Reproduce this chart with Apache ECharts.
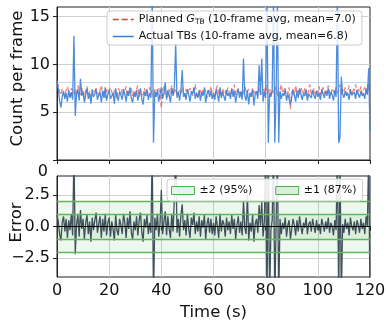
<!DOCTYPE html>
<html>
<head>
<meta charset="utf-8">
<script src="https://cdn.jsdelivr.net/npm/echarts@6/dist/echarts.min.js"></script>
<style>
  html, body { margin: 0; padding: 0; background: #fff; }
  #chart { width: 386px; height: 322px; }
</style>
</head>
<body>
<div id="chart"></div>
<script>
// one sample every 0.5 s, 0..120 s
const step = 0.5;
const xTicks = [0, 20, 40, 60, 80, 100, 120];
const countTicks = [5, 10, 15];
const errorTicks = [-2.5, 0, 2.5];

// planned G_TB (10-frame avg)
const planned = [
  7.6, 7.9, 7.2, 6.8, 7.4, 7.0, 6.6, 7.3, 7.7, 7.1,
  6.7, 7.5, 7.2, 6.9, 7.4, 6.6, 7.8, 7.1, 6.8, 7.5,
  7.0, 6.5, 7.3, 7.7, 6.9, 7.2, 6.6, 7.4, 7.0, 6.8,
  7.5, 7.1, 6.7, 7.3, 7.8, 6.9, 7.2, 6.5, 7.4, 7.0,
  6.8, 7.6, 7.1, 6.7, 7.3, 7.0, 6.4, 7.5, 7.2, 6.9,
  7.4, 6.8, 7.1, 7.7, 6.6, 7.2, 7.0, 7.5, 6.7, 7.3,
  6.9, 7.4, 7.8, 6.6, 7.1, 7.3, 6.8, 7.5, 7.0, 6.7,
  7.2, 7.6, 6.9, 7.3, 6.6, 7.4, 7.1, 6.8, 7.5, 7.0,
  5.4, 7.3, 7.7, 6.9, 7.1, 6.6, 7.4, 7.0, 7.8, 6.8,
  7.2, 7.5, 6.7, 7.0, 7.3, 6.9, 7.6, 7.1, 6.6, 7.4,
  7.0, 6.8, 7.5, 7.2, 6.7, 7.3, 7.9, 6.9, 7.1, 6.6,
  7.4, 7.0, 6.8, 7.6, 7.2, 6.5, 7.3, 7.0, 7.7, 6.9,
  7.1, 6.7, 7.4, 7.8, 6.9, 7.2, 6.6, 7.5, 7.0, 7.3,
  6.8, 7.6, 7.1, 6.7, 7.4, 7.0, 7.9, 6.8, 7.2, 7.5,
  6.9, 7.3, 6.6, 7.1, 7.7, 7.0, 6.8, 7.4, 7.2, 6.6,
  7.5, 7.0, 6.9, 7.3, 6.7, 7.6, 7.1, 6.8, 7.4, 7.0,
  7.8, 6.9, 7.2, 7.5, 6.7, 7.1, 7.4, 6.9, 7.7, 7.0,
  6.5, 7.3, 7.9, 7.0, 6.8, 7.5, 7.2, 6.9, 7.6, 5.3,
  7.1, 7.4, 6.7, 7.8, 7.0, 7.3, 6.8, 7.6, 7.2, 6.9,
  7.5, 7.0, 6.6, 7.4, 7.9, 6.8, 7.2, 7.5, 6.9, 7.3,
  7.0, 7.7, 6.8, 7.2, 7.6, 6.9, 7.4, 7.0, 7.8, 7.1,
  6.7, 7.5, 7.2, 6.9, 7.6, 7.0, 7.3, 7.9, 6.8, 7.4,
  7.1, 7.6, 6.9, 7.3, 7.8, 7.0, 6.7, 7.5, 7.2, 7.9,
  6.8, 7.4, 7.1, 7.7, 6.9, 7.3, 7.6, 7.0, 7.8, 7.2,
  7.5
];

// actual TBs (10-frame avg)
const actual = [
  8.3, 7.4, 6.2, 5.5, 6.6, 7.2, 6.4, 7.0, 6.1, 7.3,
  6.5, 7.1, 6.3, 13.0, 4.6, 6.9, 7.4, 6.2, 8.5, 6.7,
  7.2, 6.0, 6.8, 7.5, 6.4, 7.0, 5.9, 7.3, 6.6, 6.9,
  7.4, 6.3, 6.8, 7.1, 6.0, 7.2, 6.5, 7.6, 6.2, 6.9,
  7.3, 6.4, 6.7, 7.0, 5.9, 7.5, 6.6, 6.2, 7.1, 6.8,
  6.3, 7.4, 6.9, 6.1, 7.2, 6.7, 7.6, 6.4, 6.0, 7.0,
  6.6, 7.3, 6.2, 6.9, 7.5, 6.4, 5.8, 7.1, 6.7, 7.4,
  6.3, 7.0, 6.5, 17.0, 1.8, 7.2, 6.6, 7.4, 6.1, 6.9,
  7.6, 6.4, 7.0, 8.1, 6.3, 7.3, 6.8, 6.0, 7.5, 6.7,
  7.7, 12.2, 6.5, 7.1, 6.2, 7.3, 9.4, 6.6, 7.0, 6.3,
  7.4, 6.8, 6.1, 7.2, 6.9, 7.6, 6.4, 7.0, 6.5, 7.3,
  6.2, 7.1, 6.7, 7.5, 6.0, 6.9, 7.3, 6.6, 7.2, 6.4,
  7.0, 6.3, 7.4, 6.8, 6.1, 7.6, 6.5, 7.1, 6.9, 6.2,
  7.3, 6.7, 7.0, 6.4, 7.5, 6.6, 7.2, 6.0, 6.9, 7.4,
  6.5, 7.1, 6.3, 10.6, 6.7, 6.2, 7.3, 5.8, 7.0, 6.6,
  7.4, 5.7, 6.9, 7.2, 6.4, 9.9, 6.8, 10.6, 6.1, 7.1,
  6.5, 17.0, 1.8, 7.0, 6.6, 7.3, 17.0, 1.8, 6.9, 17.0,
  1.8, 7.2, 6.4, 7.0, 6.7, 7.4, 6.2, 6.9, 7.1, 5.8,
  6.6, 7.3, 6.8, 6.1, 7.2, 6.5, 7.5, 6.9, 6.3, 7.0,
  6.7, 7.4, 6.2, 6.9, 7.1, 6.5, 7.3, 6.8, 6.4, 7.2,
  6.6, 7.0, 6.3, 7.4, 6.9, 6.5, 7.2, 6.7, 7.5, 6.4,
  7.1, 6.8, 6.2, 7.3, 6.6, 17.0, 1.8, 2.4, 8.7, 6.9,
  6.5, 7.2, 6.7, 7.0, 6.3, 7.4, 6.8, 6.6, 7.1, 6.4,
  7.3, 6.9, 6.5, 7.2, 6.7, 7.0, 6.4, 7.5, 6.8, 9.6,
  3.1
];

// per-frame error
const errors = [
  0.9, 0.4, -0.6, -1.1, 0.3, 0.8, -0.4, 0.6, -0.9, 0.5,
  -0.3, 1.0, -0.7, 6.0, -2.2, 0.2, 0.9, -0.8, 1.3, -0.2,
  0.6, -1.0, 0.3, 0.9, -0.6, 0.4, -1.2, 0.7, -0.3, 0.5,
  1.1, -0.5, 0.2, 0.8, -0.9, 0.6, -0.4, 1.0, -0.7, 0.3,
  0.7, -0.8, 0.4, -0.2, -1.1, 0.9, -0.3, -0.7, 0.6, 0.1,
  -0.6, 1.0, 0.3, -0.9, 0.7, -0.2, 1.2, -0.5, -1.0, 0.4,
  -0.3, 0.8, -0.7, 0.5, 1.1, -0.4, -1.2, 0.6, -0.1, 0.9,
  -0.6, 0.3, -0.5, 6.0, -6.0, 0.7, -0.3, 1.0, -0.8, 0.2,
  2.9, -0.6, 0.4, 1.2, -0.7, 0.8, -0.2, -0.9, 1.0, -0.4,
  2.3, 6.0, -0.5, 0.6, -0.8, 0.9, 1.75, -0.3, 0.5, -0.7,
  1.0, -0.2, -0.9, 0.7, 0.1, 1.1, -0.6, 0.4, -0.4, 0.8,
  -0.8, 0.5, -0.1, 0.9, -1.0, 0.2, 0.7, -0.5, 0.6, -0.6,
  0.3, -0.7, 0.8, 0.0, -0.9, 1.0, -0.4, 0.5, 0.2, -0.8,
  0.7, -0.3, 0.4, -0.6, 0.9, -0.2, 0.6, -1.0, 0.1, 0.8,
  -0.5, 0.4, -0.7, 2.1, -0.1, -0.6, 2.6, -1.1, 0.3, -0.4,
  0.9, -1.2, 0.2, 0.6, -0.5, 1.7, 0.0, 2.0, -0.8, 0.4,
  6.0, -6.0, 6.0, -6.0, -0.3, 0.5, 6.0, -6.0, 0.2, 6.0,
  -6.0, 0.6, -0.6, 0.3, -0.2, 0.7, -0.8, 0.1, 0.5, -1.0,
  -0.2, 0.6, 0.1, -0.7, 0.5, -0.4, 0.8, 0.0, -0.6, 0.3,
  -0.1, 0.7, -0.6, 0.2, 0.4, -0.4, 0.6, 0.0, -0.5, 0.5,
  -0.3, 0.2, -0.6, 0.6, 0.1, -0.4, 0.4, -0.2, 0.7, -0.5,
  0.3, 0.0, -0.7, 0.5, -0.3, 6.0, -6.0, 6.0, -6.0, 0.2,
  -0.5, 0.6, -0.2, 0.3, -0.7, 0.7, 0.0, -0.3, 0.4, -0.6,
  0.5, 0.1, -0.5, 0.6, -0.2, 0.3, -0.6, 0.8, 0.0, 6.0,
  -6.0
];

const band2 = 2;
const band1 = 1;

const font = "DejaVu Sans";
const toPairs = arr => arr.map((v, i) => [i * step, v]);

const chart = echarts.init(document.getElementById("chart"), null, { renderer: "canvas" });

const xAxisBase = {
  type: "value",
  min: 0,
  max: 120,
  interval: 20,
  axisLine: { show: true, lineStyle: { color: "#222", width: 1 } },
  axisTick: { show: true, length: 4, lineStyle: { color: "#222" } },
  splitLine: { show: true, showMinLine: false, showMaxLine: false, lineStyle: { color: "#d0d0d0", width: 1 } }
};

const option = {
  backgroundColor: "#fff",
  animation: false,
  textStyle: { fontFamily: font },
  grid: [
    { left: 57, top: 7, width: 313, height: 153, show: true, borderColor: "#222", borderWidth: 1, backgroundColor: "transparent", outerBoundsMode: "none", containLabel: false },
    { left: 57, top: 176, width: 313, height: 101, show: true, borderColor: "#222", borderWidth: 1, backgroundColor: "transparent", outerBoundsMode: "none", containLabel: false }
  ],
  xAxis: [
    { ...xAxisBase, gridIndex: 0, axisLabel: { show: false } },
    {
      ...xAxisBase,
      gridIndex: 1,
      axisLabel: { color: "#111", fontSize: 16, margin: 6, fontFamily: font },
      name: "Time (s)",
      nameLocation: "middle",
      nameGap: 27,
      nameMoveOverlap: false,
      nameTextStyle: { color: "#111", fontSize: 16.5, fontFamily: font }
    }
  ],
  yAxis: [
    {
      type: "value",
      gridIndex: 0,
      min: 0,
      max: 16,
      axisLine: { show: true, lineStyle: { color: "#222" } },
      axisTick: { show: true, length: 4, customValues: [0, ...countTicks], lineStyle: { color: "#222" } },
      axisLabel: { customValues: countTicks, color: "#111", fontSize: 16, margin: 7, fontFamily: font },
      splitLine: { show: true, lineStyle: { color: "#d0d0d0" } },
      name: "Count per frame",
      nameLocation: "middle",
      nameGap: 31,
      nameMoveOverlap: false,
      nameTextStyle: { color: "#111", fontSize: 16.5, fontFamily: font, padding: [0, 0, 0, 10] }
    },
    {
      type: "value",
      gridIndex: 1,
      min: -4,
      max: 4,
      axisLine: { show: true, lineStyle: { color: "#222" } },
      axisTick: { show: true, length: 4, customValues: errorTicks, lineStyle: { color: "#222" } },
      axisLabel: {
        customValues: errorTicks,
        color: "#111",
        fontSize: 16,
        margin: 7,
        fontFamily: font,
        formatter: v => (v < 0 ? "\u2212" + Math.abs(v).toFixed(1) : v.toFixed(1))
      },
      splitLine: { show: true, lineStyle: { color: "#d0d0d0" } },
      name: "Error",
      nameLocation: "middle",
      nameGap: 32,
      nameMoveOverlap: false,
      nameTextStyle: { color: "#111", fontSize: 16.5, fontFamily: font, padding: [0, 0, 0, 8] }
    }
  ],
  legend: [
    {
      z: 10,
      left: 107,
      top: 11,
      orient: "vertical",
      itemWidth: 21,
      itemHeight: 10,
      itemGap: 5,
      padding: [3, 6, 3, 5],
      backgroundColor: "rgba(255,255,255,0.85)",
      borderColor: "#cccccc",
      borderWidth: 1,
      borderRadius: 3,
      textStyle: {
        fontSize: 11,
        color: "#111",
        fontFamily: font,
        rich: {
          a: { fontSize: 11, color: "#111", fontFamily: font },
          g: { fontSize: 11, color: "#111", fontFamily: font, fontStyle: "italic" },
          s: { fontSize: 7.5, color: "#111", fontFamily: font, padding: [5, 0, 0, 0] }
        }
      },
      formatter: name =>
        name === "Planned"
          ? "{a|Planned }{g|G}{s|TB}{a| (10-frame avg, mean=7.0)}"
          : "{a|Actual TBs (10-frame avg, mean=6.8)}",
      data: [
        { name: "Planned", itemStyle: { opacity: 0 }, lineStyle: { color: "#e53935", type: "dashed", width: 1.5, opacity: 1 } },
        { name: "Actual", itemStyle: { opacity: 0 }, lineStyle: { color: "#3a7fd6", width: 1.5, opacity: 1 } }
      ]
    },
    {
      z: 10,
      left: 167,
      top: 179,
      orient: "horizontal",
      itemWidth: 23,
      itemHeight: 8,
      itemGap: 23,
      padding: [6, 6, 5, 4],
      backgroundColor: "rgba(255,255,255,0.88)",
      borderColor: "#cccccc",
      borderWidth: 1,
      borderRadius: 3,
      textStyle: { fontSize: 11, color: "#111", fontFamily: font },
      data: [
        { name: "\u00b12 (95%)", icon: "rect", itemStyle: { color: "#e6f3e6", borderColor: "#4caf50", borderWidth: 1 } },
        { name: "\u00b11 (87%)", icon: "rect", itemStyle: { color: "#d9eed9", borderColor: "#4caf50", borderWidth: 1 } }
      ]
    }
  ],
  series: [
    {
      name: "Planned",
      type: "line",
      xAxisIndex: 0,
      yAxisIndex: 0,
      data: toPairs(planned),
      symbol: "none",
      color: "#e53935",
      lineStyle: { color: "#e8504d", width: 1.3, type: "dashed", opacity: 0.7 },
      z: 2
    },
    {
      name: "Actual",
      type: "line",
      xAxisIndex: 0,
      yAxisIndex: 0,
      data: toPairs(actual),
      symbol: "none",
      color: "#3a7fd6",
      lineStyle: { color: "#3a7fd6", width: 1.3, opacity: 0.9 },
      markLine: {
        silent: true,
        symbol: "none",
        label: { show: false },
        lineStyle: { color: "rgba(120,170,230,0.45)", width: 1, type: "solid" },
        data: [{ yAxis: 8.1 }, { yAxis: 6.05 }]
      },
      z: 3
    },
    {
      name: "\u00b12 (95%)",
      type: "line",
      xAxisIndex: 1,
      yAxisIndex: 1,
      data: [],
      symbol: "none",
      color: "#e6f3e6",
      markArea: {
        silent: true,
        itemStyle: { color: "rgba(76,175,80,0.10)" },
        data: [[{ yAxis: -band2 }, { yAxis: band2 }]]
      },
      markLine: {
        silent: true,
        symbol: "none",
        label: { show: false },
        lineStyle: { color: "#5cb85c", width: 1.3, type: "solid" },
        data: [{ yAxis: band2 }, { yAxis: -band2 }]
      },
      z: 1
    },
    {
      name: "\u00b11 (87%)",
      type: "line",
      xAxisIndex: 1,
      yAxisIndex: 1,
      data: [],
      symbol: "none",
      color: "#d9eed9",
      markArea: {
        silent: true,
        itemStyle: { color: "rgba(76,175,80,0.10)" },
        data: [[{ yAxis: -band1 }, { yAxis: band1 }]]
      },
      markLine: {
        silent: true,
        symbol: "none",
        label: { show: false },
        lineStyle: { color: "#5cb85c", width: 1.3, type: "solid" },
        data: [{ yAxis: band1 }, { yAxis: -band1 }]
      },
      z: 1
    },
    {
      name: "Error",
      type: "line",
      xAxisIndex: 1,
      yAxisIndex: 1,
      data: toPairs(errors),
      symbol: "none",
      color: "#3f515b",
      lineStyle: { color: "#3f515b", width: 1.3 },
      markLine: {
        silent: true,
        symbol: "none",
        label: { show: false },
        lineStyle: { color: "#000", width: 1.1, type: "solid" },
        data: [{ yAxis: 0 }]
      },
      z: 4
    }
  ],
  graphic: [
    // stray "0" tick label under the upper panel
    {
      type: "text",
      x: 48,
      y: 172,
      style: { text: "0", fontSize: 16, fontFamily: font, fill: "#111", align: "right", verticalAlign: "middle" }
    }
  ]
};

chart.setOption(option);
</script>
</body>
</html>
